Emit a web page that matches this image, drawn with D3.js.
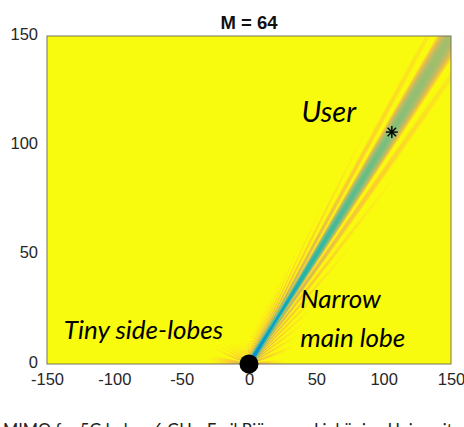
<!DOCTYPE html>
<html>
<head>
<meta charset="utf-8">
<script src="https://cdn.jsdelivr.net/npm/d3@7"></script>
<style>
  body { margin: 0; background: #fff; }
  svg { display: block; }
</style>
</head>
<body>
<svg id="chart" width="464" height="427"></svg>
<script>
// Uniform linear array at the origin (along the x-axis), beamforming toward one user.
const M = 64;                      // number of antennas
const wavelength = 0.1;            // metres
const spacingInWavelengths = 0.5;  // element spacing
const userDistance = 150;          // metres from the array
const userAngleDeg = 45;           // measured from the x-axis
const pathLossExponent = 1.7;      // power decays as distance^-exponent
const xTicks = [-150, -100, -50, 0, 50, 100, 150];
const yTicks = [0, 50, 100, 150];
const xDomain = [-150, 150];
const yDomain = [0, 150];
// received power (dB) mapped to the colour scale: strongest -> blue, weakest -> yellow
const powerRangeDb = [-10.6, -54.6];
const parulaStops = ["#352a87", "#0363e1", "#1485d4", "#06a7c6", "#38b99e",
                     "#92bf73", "#d9ba56", "#fcce2e", "#f9fb0e"];
const titleText = "M = 64";
const footerText = "MIMO for 5G below 6 GHz, Emil Björnson, Linköping University";

const plot = { left: 47, right: 451, top: 36, bottom: 364 };

const svg = d3.select("#chart");
const x = d3.scaleLinear().domain(xDomain).range([plot.left, plot.right]);
const y = d3.scaleLinear().domain(yDomain).range([plot.bottom, plot.top]);

const parula = d3.scaleLinear()
  .domain(parulaStops.map((_, i) => i / (parulaStops.length - 1)))
  .range(parulaStops)
  .interpolate(d3.interpolateRgb)
  .clamp(true);
const powerToT = d3.scaleLinear().domain(powerRangeDb).range([0, 1]).clamp(true);

// ---- field computation (spherical waves from every element) ----
const k = 2 * Math.PI / wavelength;
const d = spacingInWavelengths * wavelength;
const ex = d3.range(M).map(m => (m - (M - 1) / 2) * d);
const ux = userDistance * Math.cos(userAngleDeg * Math.PI / 180);
const uy = userDistance * Math.sin(userAngleDeg * Math.PI / 180);
const phase0 = ex.map(e => k * Math.hypot(ux - e, uy));   // matched-filter precoding phases
const ampExp = -pathLossExponent / 2;

function powerDb(X, Y) {
  let re = 0, im = 0;
  for (let m = 0; m < M; m++) {
    const dx = X - ex[m];
    const r = Math.sqrt(dx * dx + Y * Y);
    const ph = phase0[m] - k * r;
    const a = Math.pow(r, ampExp);
    re += a * Math.cos(ph);
    im += a * Math.sin(ph);
  }
  return 10 * Math.log10((re * re + im * im) / (M * M));
}

const pw = plot.right - plot.left, ph = plot.bottom - plot.top;
const canvas = document.createElement("canvas");
canvas.width = pw; canvas.height = ph;
const ctx = canvas.getContext("2d");
const img = ctx.createImageData(pw, ph);
const SS = 2; // samples per pixel side
const colorCache = new Map();
function rgbOf(t) {
  const key = Math.round(t * 1000);
  let c = colorCache.get(key);
  if (!c) { c = d3.rgb(parula(key / 1000)); colorCache.set(key, c); }
  return c;
}
for (let j = 0; j < ph; j++) {
  for (let i = 0; i < pw; i++) {
    let R = 0, G = 0, B = 0;
    for (let sj = 0; sj < SS; sj++) {
      for (let si = 0; si < SS; si++) {
        const X = x.invert(plot.left + i + (si + 0.5) / SS);
        const Y = y.invert(plot.top + j + (sj + 0.5) / SS);
        const c = rgbOf(powerToT(powerDb(X, Y)));
        R += c.r; G += c.g; B += c.b;
      }
    }
    const n = SS * SS, o = 4 * (j * pw + i);
    img.data[o] = R / n; img.data[o + 1] = G / n; img.data[o + 2] = B / n; img.data[o + 3] = 255;
  }
}
ctx.putImageData(img, 0, 0);

svg.append("image")
  .attr("x", plot.left).attr("y", plot.top)
  .attr("width", pw).attr("height", ph)
  .attr("preserveAspectRatio", "none")
  .attr("href", canvas.toDataURL());

// axes frame
svg.append("rect")
  .attr("x", plot.left).attr("y", plot.top)
  .attr("width", pw).attr("height", ph)
  .attr("fill", "none").attr("stroke", "#74745a").attr("stroke-width", 1);

// tick labels
const tickFont = "'Liberation Sans', Arial, Helvetica, sans-serif";
const gx = svg.append("g").attr("transform", `translate(0,${plot.bottom})`)
  .call(d3.axisBottom(x).tickValues(xTicks).tickSize(0).tickPadding(9).tickFormat(d3.format("d")));
const gy = svg.append("g").attr("transform", `translate(${plot.left},0)`)
  .call(d3.axisLeft(y).tickValues(yTicks).tickSize(0).tickPadding(9).tickFormat(d3.format("d")));
[gx, gy].forEach(g => {
  g.select(".domain").remove();
  g.selectAll("text").attr("font-family", tickFont).attr("font-size", 16.5).attr("fill", "#262626");
});
gx.selectAll("text").text(d => d < 0 ? "-" + Math.abs(d) : d);
gy.selectAll("text").attr("dy", "0.2em");

// title
svg.append("text")
  .attr("x", (plot.left + plot.right) / 2).attr("y", 29)
  .attr("text-anchor", "middle")
  .attr("font-family", tickFont).attr("font-weight", "bold").attr("font-size", 18.5)
  .attr("fill", "#111")
  .text(titleText);

// array position and user position
svg.append("circle").attr("cx", x(0)).attr("cy", y(0)).attr("r", 9.5).attr("fill", "#000");
const star = svg.append("g").attr("transform", `translate(${x(ux)},${y(uy)})`);
const sr = 6;
[0, 45, 90, 135].forEach(a => {
  const c = Math.cos(a * Math.PI / 180) * sr, s = Math.sin(a * Math.PI / 180) * sr;
  star.append("line").attr("x1", -c).attr("y1", -s).attr("x2", c).attr("y2", s)
    .attr("stroke", "#000").attr("stroke-width", 1.4);
});

// annotations
const noteFont = "Lato, 'Open Sans', sans-serif";
const notes = [
  { text: "User", x: 39, y: 110.5, size: 29 },
  { text: "Narrow", x: 38, y: 25.5, size: 26 },
  { text: "main lobe", x: 38, y: 7.7, size: 26 },
  { text: "Tiny side-lobes", x: -137.5, y: 11.4, size: 26 }
];
svg.selectAll("text.note").data(notes).join("text")
  .attr("class", "note")
  .attr("x", n => x(n.x)).attr("y", n => y(n.y))
  .attr("font-family", noteFont).attr("font-style", "italic").attr("font-size", n => n.size)
  .attr("fill", "#000")
  .text(n => n.text);

// footer line
svg.append("text")
  .attr("x", 3).attr("y", 436)
  .attr("font-family", noteFont).attr("font-size", 17)
  .attr("textLength", 458).attr("lengthAdjust", "spacingAndGlyphs")
  .attr("fill", "#222")
  .text(footerText);
</script>
</body>
</html>
